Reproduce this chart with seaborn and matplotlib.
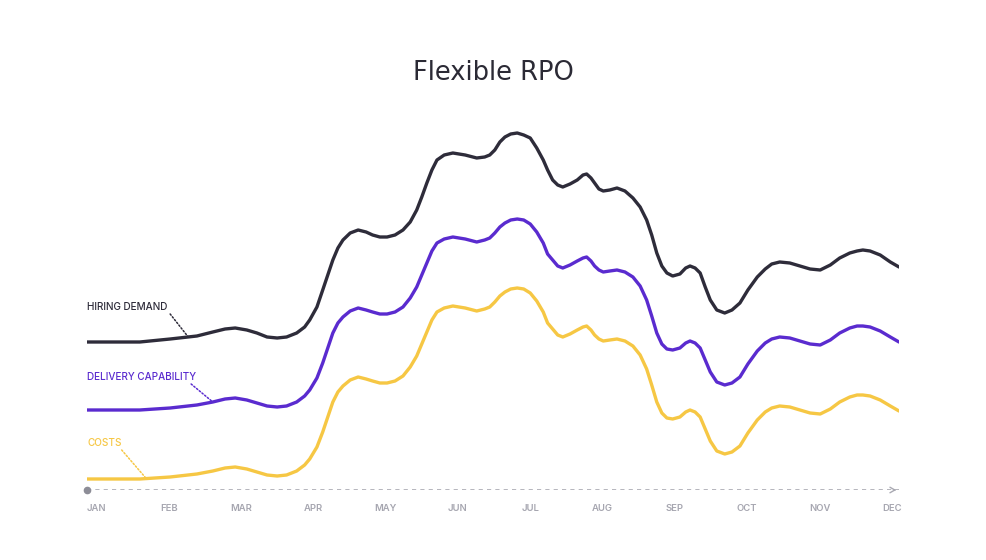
import numpy as np
import pandas as pd
import matplotlib
matplotlib.use("Agg")
import matplotlib.pyplot as plt
import seaborn as sns

# data (x in months, 0 = Jan)
months = ["JAN", "FEB", "MAR", "APR", "MAY", "JUN", "JUL", "AUG", "SEP", "OCT", "NOV", "DEC"]

x_pos = [-0.13, 0.26, 0.60, 1.02, 1.39, 1.61, 1.78, 1.92, 2.08, 2.22, 2.36, 2.50, 2.63, 2.77,
         2.88, 2.95, 3.05, 3.13, 3.20, 3.27, 3.34, 3.41, 3.51, 3.62, 3.73, 3.82, 3.92, 4.02,
         4.13, 4.24, 4.34, 4.43, 4.50, 4.57, 4.64, 4.71, 4.81, 4.93, 5.10, 5.26, 5.37, 5.44,
         5.51, 5.58, 5.65, 5.73, 5.82, 5.91, 6.00, 6.09, 6.18, 6.24, 6.31, 6.38, 6.45, 6.55,
         6.65, 6.73, 6.78, 6.84, 6.89, 6.95, 7.01, 7.10, 7.20, 7.31, 7.42, 7.52, 7.61, 7.68,
         7.75, 7.82, 7.89, 7.97, 8.07, 8.15, 8.21, 8.28, 8.35, 8.42, 8.49, 8.58, 8.69, 8.79,
         8.90, 9.01, 9.14, 9.25, 9.34, 9.45, 9.59, 9.73, 9.87, 10.01, 10.15, 10.28, 10.42,
         10.52, 10.60, 10.70, 10.84, 10.98, 11.10]

hiring_demand = [148, 148, 148, 151, 154, 158, 161, 162, 160, 157, 153, 152, 153, 157,
                 163, 170, 183, 200, 215, 230, 242, 250, 257, 260, 258, 255, 253, 253,
                 255, 260, 268, 280, 293, 307, 320, 330, 335, 337, 335, 332, 333, 335,
                 340, 348, 353, 356, 357, 355, 352, 342, 330, 320, 310, 305, 303, 306,
                 310, 315, 316, 312, 307, 301, 299, 300, 302, 299, 292, 283, 270, 255,
                 237, 224, 217, 214, 216, 222, 224, 222, 217, 203, 190, 180, 177, 180,
                 187, 200, 213, 221, 226, 228, 227, 224, 221, 220, 225, 232, 237,
                 239, 240, 239, 235, 228, 223]

delivery_capability = [80, 80, 80, 82, 85, 88, 91, 92, 90, 87, 84, 83, 84, 88,
                       94, 100, 112, 127, 142, 157, 167, 173, 179, 182, 180, 178, 176, 176,
                       178, 183, 192, 203, 215, 227, 239, 247, 251, 253, 251, 248, 250, 252,
                       257, 263, 267, 270, 271, 270, 266, 258, 247, 236, 230, 224, 222, 225,
                       229, 232, 233, 229, 224, 220, 218, 219, 220, 218, 213, 204, 190, 174,
                       157, 146, 141, 140, 142, 147, 149, 147, 142, 130, 118, 108, 105, 107,
                       113, 126, 139, 147, 151, 153, 152, 149, 146, 145, 150, 157, 162,
                       164, 164, 163, 159, 153, 148]

costs = [11, 11, 11, 13, 16, 19, 22, 23, 21, 18, 15, 14, 15, 19,
         25, 31, 43, 58, 73, 88, 98, 104, 110, 113, 111, 109, 107, 107,
         109, 114, 123, 134, 146, 158, 170, 178, 182, 184, 182, 179, 181, 183,
         188, 194, 198, 201, 202, 201, 197, 189, 178, 167, 161, 155, 153, 156,
         160, 163, 164, 160, 155, 151, 149, 150, 151, 149, 144, 135, 121, 105,
         88, 77, 72, 71, 73, 78, 80, 78, 73, 61, 49, 39, 36, 38,
         44, 57, 70, 78, 82, 84, 83, 80, 77, 76, 81, 88, 93,
         95, 95, 94, 90, 84, 79]

series_names = ["HIRING DEMAND", "DELIVERY CAPABILITY", "COSTS"]
series_vals = [hiring_demand, delivery_capability, costs]
colors = ["#2e2c3a", "#5a2bcf", "#f6c744"]

sns.set_style("white")
plt.rcParams['font.family'] = ['Inter', 'DejaVu Sans']

fig = plt.figure(figsize=(9.86, 5.6), dpi=100)
ax = fig.add_axes([87 / 986, 70 / 560, 812 / 986, 390 / 560])

for name, vals, col in zip(series_names, series_vals, colors):
    df = pd.DataFrame({"month": x_pos, "value": vals})
    sns.lineplot(data=df, x="month", y="value", color=col, linewidth=2.4, ax=ax,
                 solid_joinstyle="round", solid_capstyle="round")

ax.set_xlim(x_pos[0], x_pos[-1])
ax.set_ylim(0, 390)
for s in ax.spines.values():
    s.set_visible(False)
ax.set_yticks([])
ax.set_xlabel("")
ax.set_ylabel("")
ax.set_xticks(range(len(months)))
ax.set_xticklabels(months, fontsize=6.8, color="#a6a6b0", fontweight="semibold")
ax.tick_params(axis="x", length=0, pad=10)

# dashed baseline with dot and arrow head
ax.axhline(0, color="#a9a9b2", linewidth=1.2, linestyle=(0, (2.5, 2.5)), zorder=1)
ax.plot([0], [0], marker="o", markersize=4.5, color="#8d8d97",
        transform=ax.transAxes, clip_on=False)
ax.annotate("", xy=(1.0, 0), xytext=(0.99, 0), xycoords="axes fraction",
            arrowprops=dict(arrowstyle="->,head_length=0.35,head_width=0.2",
                            color="#a9a9b2", lw=1.0))

# series labels with dotted leaders
label_y = [183, 113, 47]
leader_start = [1.02, 1.31, 0.35]
leader_end = [1.27, 1.61, 0.69]
for name, vals, col, ly, xs, xe in zip(series_names, series_vals, colors,
                                        label_y, leader_start, leader_end):
    ax.text(x_pos[0], ly, name, color=col, fontsize=7.2, ha="left", va="center",
            fontweight="medium")
    ye = np.interp(xe, x_pos, vals)
    ax.annotate("", xy=(xe, ye), xytext=(xs, ly - 7),
                arrowprops=dict(arrowstyle="-", color=col, lw=1.1,
                                linestyle=(0, (1, 1.3)), shrinkA=0, shrinkB=0))

fig.text(0.5, 1 - 73 / 560, "Flexible RPO", ha="center", va="center",
         fontsize=18.5, color="#2b2a35", family=["DejaVu Sans"])

fig.savefig("out.png", dpi=100, facecolor="white")
